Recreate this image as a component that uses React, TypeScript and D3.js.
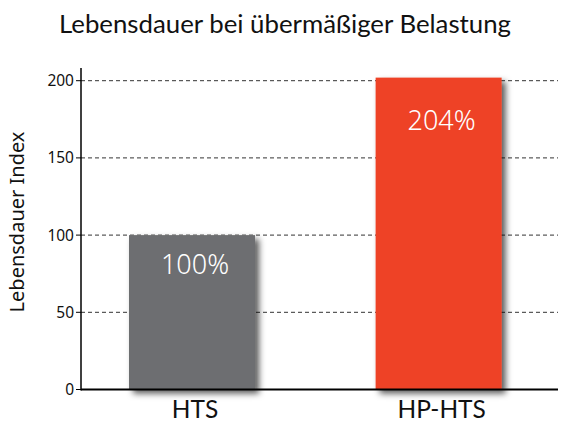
import React from "react";
import * as d3 from "d3";

const categories = ["HTS", "HP-HTS"];
const values = [100, 202];
const valueLabels = ["100%", "204%"];
const yTicks = [0, 50, 100, 150, 200];
const title = "Lebensdauer bei übermäßiger Belastung";
const yTitle = "Lebensdauer Index";

const colors = ["#6d6e71", "#ee4327"];
const labelOffsets = [39, 52];
const sans = "'Noto Sans', 'DejaVu Sans', sans-serif";

export default function App() {
  const W = 568, H = 423;
  const x0 = 81, x1 = 558;
  const y = d3.scaleLinear().domain([0, 200]).range([389.5, 80.7]);
  const x = d3
    .scaleBand<string>()
    .domain(categories)
    .range([x0, x1])
    .paddingInner(0.489)
    .paddingOuter(0.2116)
    .align(0.46);
  const bw = x.bandwidth();
  return (
    <svg
      width={W}
      height={H}
      style={{ position: "absolute", left: 0, top: 0, background: "#fff" }}
    >
      <defs>
        <filter id="sh" x="-20%" y="-20%" width="150%" height="150%">
          <feDropShadow dx="4" dy="4" stdDeviation="3" floodColor="#000" floodOpacity="0.65" />
        </filter>
      </defs>
      <text
        x={285}
        y={33}
        textAnchor="middle"
        fontFamily="Lato"
        fontSize={25.8}
        fill="#111"
      >
        {title}
      </text>
      {yTicks.filter((t) => t > 0).map((t) => (
        <line
          key={"g" + t}
          x1={x0}
          x2={x1}
          y1={y(t)}
          y2={y(t)}
          stroke="#333"
          strokeWidth={1}
          strokeDasharray="4,3"
        />
      ))}
      {categories.map((c, i) => (
        <rect
          key={c}
          x={x(c)}
          y={y(values[i])}
          width={bw}
          height={y(0) - y(values[i])}
          fill={colors[i]}
          filter="url(#sh)"
        />
      ))}
      {categories.map((c, i) => (
        <text
          key={"v" + c}
          x={(x(c) as number) + bw / 2 + 3}
          y={y(values[i]) + labelOffsets[i]}
          textAnchor="middle"
          fontFamily={sans}
          fontWeight={300}
          fontSize={27}
          fill="#fff"
        >
          {valueLabels[i]}
        </text>
      ))}
      <line x1={x0} x2={x1} y1={y(0)} y2={y(0)} stroke="#000" strokeWidth={2} />
      <line x1={x0} x2={x0} y1={y(0) + 1} y2={68} stroke="#000" strokeWidth={1.5} />
      {yTicks.map((t) => (
        <g key={"t" + t}>
          <line x1={x0 - 5} x2={x0} y1={y(t)} y2={y(t)} stroke="#000" strokeWidth={1} />
          <text
            x={x0 - 7}
            y={y(t)}
            dy="0.35em"
            textAnchor="end"
            fontFamily={sans}
            fontSize={15.5}
            fill="#111"
          >
            {t}
          </text>
        </g>
      ))}
      {categories.map((c) => (
        <text
          key={"c" + c}
          x={(x(c) as number) + bw / 2 + 3}
          y={418}
          textAnchor="middle"
          fontFamily="Lato"
          fontSize={24.5}
          fill="#111"
        >
          {c}
        </text>
      ))}
      <text
        transform={`translate(24,222) rotate(-90)`}
        textAnchor="middle"
        fontFamily={sans}
        fontSize={20}
        fill="#111"
      >
        {yTitle}
      </text>
    </svg>
  );
}
